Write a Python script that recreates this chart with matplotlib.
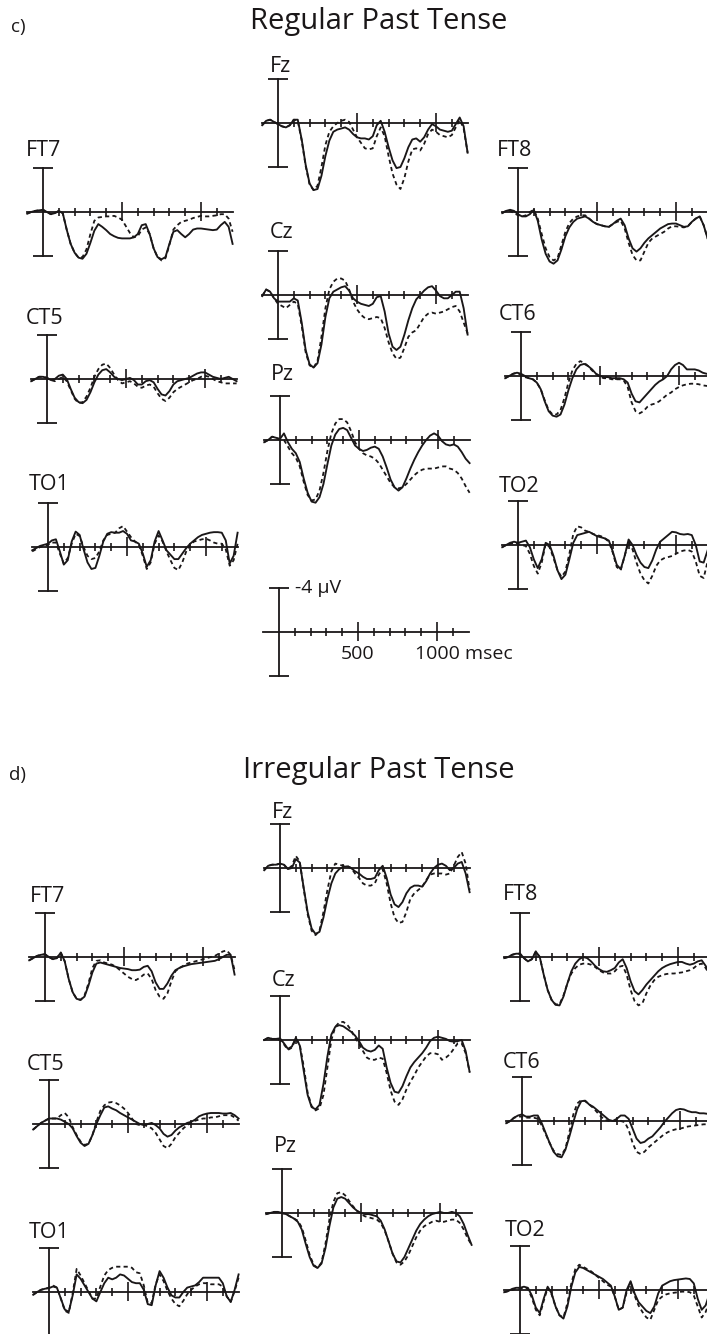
import numpy as np
import matplotlib
matplotlib.use("Agg")
import matplotlib.pyplot as plt

plt.rcParams['font.family'] = ['Open Sans', 'DejaVu Sans']

# ---------------- data (µV, negative plotted up) ----------------
times = list(range(-100, 1201, 25))  # ms sample times

tick_ms = [100, 200, 300, 400, 500, 600, 700, 800, 900, 1000, 1100]
major_ms = [500, 1000]

# ---- c) Regular past tense ----
reg_FT7_solid = [0.15, 0, -0.1, -0.15, -0.2, 0, 0.2, 0.1, -0.1,
                 0.1, 1.6, 2.9, 3.7, 4.15, 4.25, 3.8, 2.8, 1.7,
                 1.1, 1.35, 1.65, 2.0, 2.2, 2.35, 2.4, 2.4, 2.4,
                 2.3, 2.0, 1.2, 1.1, 2.0, 3.3, 4.1, 4.3, 4.1,
                 2.9, 1.8, 1.65, 2.0, 2.3, 2.0, 1.6, 1.5, 1.5,
                 1.55, 1.6, 1.65, 1.6, 1.2, 0.9, 1.35, 2.9]
reg_FT7_dash = [0.15, 0, -0.1, -0.15, -0.2, 0, 0.2, 0.1, -0.1,
                0.1, 1.6, 2.9, 3.7, 4.15, 4.1, 3.4, 2.0, 0.8,
                0.5, 0.45, 0.4, 0.4, 0.35, 0.5, 0.7, 1.3, 1.9,
                2.3, 2.2, 1.6, 1.4, 2.0, 3.3, 4.1, 4.4, 4.2,
                3.0, 1.6, 1.2, 0.9, 0.8, 0.7, 0.55, 0.45, 0.35,
                0.4, 0.4, 0.35, 0.3, 0.2, 0.2, 0.6, 1.8]

reg_Fz_solid = [0.2, -0.2, -0.3, -0.1, 0.1, 0.3, 0.4, 0.2, -0.3,
                -0.3, 1.5, 3.8, 5.5, 6.1, 6.0, 4.8, 3.0, 1.6,
                0.8, 0.6, 0.5, 0.4, 0.6, 1.0, 1.3, 1.4, 1.4,
                1.5, 1.2, 0.2, -0.2, 0.8, 2.2, 3.4, 4.1, 4.0,
                3.2, 2.2, 1.5, 1.4, 1.7, 1.3, 0.6, 0.1, 0.3,
                0.6, 0.7, 0.8, 0.7, 0.1, -0.5, 0.3, 2.7]
reg_Fz_dash = [0.2, -0.2, -0.3, -0.1, 0.1, 0.3, 0.4, 0.2, -0.3,
               -0.2, 1.6, 3.9, 5.6, 6.1, 5.7, 4.0, 2.0, 0.8,
               0.3, 0.0, -0.2, -0.3, -0.1, 0.6, 1.3, 1.8, 2.3,
               2.4, 2.3, 1.2, 0.4, 1.2, 3.0, 4.6, 5.6, 6.0,
               5.0, 3.5, 2.4, 2.3, 2.5, 1.9, 1.0, 0.6, 0.8,
               1.1, 1.2, 1.3, 1.1, 0.4, -0.3, 0.5, 2.7]

reg_Cz_solid = [0.1, -0.5, -0.3, 0.3, 0.6, 0.6, 0.6, 0.6, 0.3,
                0.5, 2.5, 5.0, 6.3, 6.6, 6.2, 4.5, 2.0, 0.3,
                -0.3, -0.5, -0.7, -0.8, -0.4, 0.3, 0.6, 0.8, 0.9,
                1.0, 0.8, 0.2, 0.1, 1.5, 3.5, 4.7, 5.0, 4.7,
                3.6, 2.3, 1.2, 0.4, 0.0, -0.4, -0.7, -0.8, -0.4,
                0.1, 0.3, 0.3, 0.0, -0.3, -0.3, 1.2, 3.6]
reg_Cz_dash = [0.1, -0.5, -0.3, 0.3, 0.8, 1.0, 1.2, 0.9, 0.6,
               0.8, 2.8, 5.2, 6.4, 6.6, 6.0, 3.8, 1.2, -0.5,
               -1.2, -1.5, -1.5, -1.3, -0.5, 0.6, 1.3, 1.8, 2.1,
               2.2, 2.1, 2.0, 2.1, 3.0, 4.3, 5.3, 5.8, 5.7,
               4.8, 3.8, 3.4, 3.2, 2.6, 2.0, 1.7, 1.6, 1.7,
               1.6, 1.5, 1.3, 1.1, 1.0, 1.5, 2.5, 3.5]

reg_Pz_solid = [0.2, 0.0, -0.3, -0.2, -0.1, -0.6, 0.2, 0.8, 1.2,
                2.0, 3.5, 4.8, 5.6, 5.7, 5.2, 4.0, 2.2, 0.5,
                -0.5, -1.0, -1.1, -0.9, -0.2, 0.5, 0.8, 1.0, 0.9,
                0.7, 0.6, 0.8, 1.5, 2.5, 3.6, 4.3, 4.6, 4.3,
                3.5, 2.6, 1.8, 1.1, 0.5, 0.0, -0.4, -0.6, -0.4,
                0.1, 0.4, 0.5, 0.4, 0.6, 1.1, 1.7, 2.1]
reg_Pz_dash = [0.2, 0.0, -0.3, -0.2, 0.0, 0.0, 0.6, 1.2, 1.6,
               2.4, 3.8, 5.0, 5.5, 5.4, 4.6, 3.0, 1.0, -0.6,
               -1.5, -1.9, -1.9, -1.6, -0.8, 0.2, 0.8, 1.2, 1.4,
               1.5, 1.7, 2.1, 2.7, 3.3, 3.9, 4.3, 4.4, 4.3,
               4.0, 3.6, 3.2, 2.9, 2.7, 2.6, 2.6, 2.6, 2.5,
               2.4, 2.4, 2.6, 2.7, 3.0, 3.5, 4.2, 4.8]

reg_CT5_solid = [0.2, 0.0, -0.2, -0.2, -0.1, 0.1, 0.0, -0.3, -0.4,
                 0.0, 0.9, 1.7, 2.1, 2.2, 1.9, 1.2, 0.3, -0.4,
                 -0.8, -0.9, -0.6, -0.2, 0.0, 0.1, 0.0, -0.1, 0.1,
                 0.5, 0.5, 0.2, 0.1, 0.3, 0.9, 1.4, 1.5, 1.1,
                 0.5, 0.2, 0.1, 0.0, -0.1, -0.3, -0.5, -0.6, -0.6,
                 -0.4, -0.2, -0.1, 0.0, -0.1, -0.2, 0.0, 0.2]
reg_CT5_dash = [0.2, 0.0, -0.2, -0.2, -0.1, 0.1, 0.2, 0.0, -0.2,
                0.2, 1.0, 1.8, 2.2, 2.1, 1.6, 0.8, -0.2, -0.9,
                -1.3, -1.4, -1.0, -0.4, 0.1, 0.4, 0.3, 0.2, 0.4,
                0.7, 0.8, 0.6, 0.5, 0.7, 1.3, 1.8, 2.0, 1.7,
                1.2, 0.9, 0.7, 0.5, 0.3, 0.1, 0.0, -0.2, -0.3,
                -0.2, 0.0, 0.2, 0.3, 0.4, 0.4, 0.4, 0.4]

reg_TO1_solid = [0.3, 0.1, -0.1, -0.2, -0.3, -0.6, -0.7, 0.4, 1.6,
                 1.2, -0.5, -1.4, -1.1, 0.2, 1.4, 2.0, 1.9, 0.8,
                 -0.5, -1.2, -1.35, -1.3, -1.3, -1.45, -1.2, -0.6, -0.5,
                 -0.3, 0.6, 1.8, 1.2, -0.5, -1.45, -0.6, 0.3, 0.7,
                 1.1, 1.1, 0.6, 0.1, -0.3, -0.6, -0.9, -1.1, -1.2,
                 -1.3, -1.35, -1.35, -1.3, -0.6, 1.5, 0.8, -1.3]
reg_TO1_dash = [0.4, 0.2, 0.0, -0.1, -0.2, -0.4, -0.4, 0.6, 1.5,
                1.0, -0.3, -1.2, -1.0, 0.0, 0.8, 1.1, 1.0, 0.4,
                -0.6, -1.1, -1.2, -1.3, -1.7, -1.9, -1.4, -0.9, -0.5,
                -0.2, 0.8, 2.0, 1.4, -0.3, -1.05, -0.5, 0.4, 1.2,
                1.9, 2.1, 1.4, 0.4, -0.2, -0.5, -0.6, -0.7, -0.75,
                -0.6, -0.4, -0.3, -0.3, 0.2, 1.7, 1.2, -0.3]

reg_FT8_solid = [0.1, -0.1, -0.2, -0.1, 0.2, 0.4, 0.4, 0.2, -0.2,
                 0.8, 2.5, 3.8, 4.5, 4.7, 4.4, 3.4, 2.2, 1.4,
                 0.9, 0.6, 0.5, 0.4, 0.6, 0.9, 1.1, 1.2, 1.3,
                 1.35, 1.1, 0.8, 0.6, 1.2, 2.4, 3.3, 3.6, 3.3,
                 2.8, 2.4, 2.1, 1.8, 1.5, 1.3, 1.1, 1.05, 1.05,
                 1.2, 1.35, 1.3, 0.9, 0.6, 0.4, 1.2, 2.4]
reg_FT8_dash = [0.1, -0.1, -0.1, 0.1, 0.3, 0.4, 0.3, 0.0, -0.2,
                0.6, 2.0, 3.3, 4.1, 4.4, 4.2, 3.0, 1.8, 1.0,
                0.6, 0.4, 0.3, 0.3, 0.6, 0.9, 1.1, 1.2, 1.3,
                1.35, 1.1, 0.9, 0.8, 1.5, 2.8, 3.9, 4.4, 4.4,
                3.6, 2.8, 2.4, 2.2, 2.0, 1.8, 1.5, 1.3, 1.3,
                1.35, 1.4, 1.3, 0.9, 0.6, 0.4, 1.2, 2.4]

reg_CT6_solid = [0.2, 0.0, -0.2, -0.3, -0.2, 0.0, 0.2, 0.3, 0.6,
                 1.2, 2.3, 3.2, 3.6, 3.7, 3.5, 2.6, 1.3, 0.2,
                 -0.6, -1.0, -1.1, -0.9, -0.6, -0.2, 0.0, 0.1, 0.1,
                 0.2, 0.2, 0.2, 0.3, 0.6, 1.6, 2.3, 2.4, 2.0,
                 1.6, 1.2, 0.8, 0.5, 0.3, 0.0, -0.6, -1.0, -1.2,
                 -1.0, -0.6, -0.6, -0.6, -0.5, -0.3, -0.2, -0.2]
reg_CT6_dash = [0.2, 0.0, -0.2, -0.3, -0.1, 0.1, 0.2, 0.3, 0.6,
                1.2, 2.2, 3.1, 3.5, 3.5, 3.1, 2.0, 0.6, -0.5,
                -1.1, -1.35, -1.2, -0.9, -0.5, -0.2, 0.1, 0.2, 0.2,
                0.3, 0.3, 0.3, 0.4, 1.0, 2.4, 3.2, 3.4, 3.2,
                2.8, 2.6, 2.5, 2.3, 2.0, 1.7, 1.5, 1.2, 1.0,
                0.85, 0.75, 0.7, 0.7, 0.75, 0.85, 0.9, 0.9]

reg_TO2_solid = [0.2, 0.0, -0.2, -0.3, -0.2, -0.3, -0.4, 0.2, 1.3,
                 2.1, 1.3, -0.2, 0.0, 1.0, 2.3, 3.1, 2.7, 1.3,
                 -0.2, -0.9, -1.0, -1.1, -1.2, -1.0, -0.8, -0.7, -0.6,
                 -0.4, 0.6, 1.8, 2.2, 1.0, -0.5, 0.0, 0.9, 1.6,
                 2.0, 2.1, 1.4, 0.4, -0.3, -0.6, -0.9, -1.2, -1.15,
                 -1.0, -0.95, -1.0, -0.9, 0.0, 1.5, 1.6, 0.5]
reg_TO2_dash = [0.2, 0.0, -0.1, -0.2, -0.1, 0.0, 0.1, 0.8, 1.9,
                2.6, 1.6, -0.1, 0.2, 1.2, 2.3, 2.9, 2.4, 0.8,
                -1.0, -1.7, -1.6, -1.3, -1.2, -1.0, -0.9, -0.8, -0.6,
                -0.3, 0.7, 2.0, 2.3, 1.0, -0.3, 0.4, 1.6, 2.6,
                3.2, 3.5, 2.8, 1.9, 1.4, 1.2, 1.1, 1.0, 0.8,
                0.6, 0.5, 0.45, 0.6, 1.5, 2.8, 3.0, 1.5]

# ---- d) Irregular past tense ----
irr_FT7_solid = [0.3, 0.1, -0.1, -0.2, -0.25, 0.0, 0.2, 0.1, -0.4,
                 0.4, 2.0, 3.2, 3.8, 3.9, 3.6, 2.6, 1.4, 0.6,
                 0.5, 0.6, 0.7, 0.8, 0.9, 1.0, 1.05, 1.1, 1.2,
                 1.2, 1.15, 0.9, 0.8, 1.3, 2.3, 2.9, 2.9, 2.4,
                 1.7, 1.2, 1.0, 0.85, 0.75, 0.65, 0.6, 0.55, 0.5,
                 0.45, 0.4, 0.35, 0.2, 0.0, -0.2, -0.2, 1.6]
irr_FT7_dash = [0.3, 0.1, -0.1, -0.2, -0.25, 0.0, 0.2, 0.1, -0.4,
                0.4, 2.0, 3.2, 3.8, 3.9, 3.5, 2.4, 1.0, 0.35,
                0.3, 0.5, 0.6, 0.7, 0.9, 1.2, 1.5, 1.8, 2.0,
                2.1, 1.9, 1.6, 1.5, 2.0, 3.0, 3.6, 3.8, 3.3,
                2.2, 1.3, 1.0, 0.8, 0.6, 0.5, 0.4, 0.3, 0.2,
                0.1, 0.0, -0.1, -0.3, -0.5, -0.6, -0.2, 1.2]

irr_Fz_solid = [0.2, -0.2, -0.3, -0.3, -0.4, -0.3, 0.1, 0.0, -0.8,
                -0.5, 1.8, 4.0, 5.5, 6.0, 5.8, 4.5, 2.8, 1.4,
                0.5, 0.1, -0.1, -0.15, 0.0, 0.3, 0.5, 0.8, 1.0,
                1.0, 0.9, 0.2, -0.2, 0.9, 2.4, 3.3, 3.55, 3.1,
                2.3, 1.8, 1.6, 1.6, 1.7, 1.2, 0.5, 0.0, -0.3,
                -0.4, -0.2, 0.2, 0.0, -0.4, -0.55, 0.5, 2.2]
irr_Fz_dash = [0.2, -0.2, -0.3, -0.3, -0.4, -0.3, 0.1, -0.2, -1.1,
               -0.6, 1.9, 4.2, 5.7, 6.1, 5.7, 4.0, 2.0, 0.3,
               -0.4, -0.3, -0.2, -0.2, 0.0, 0.5, 0.9, 1.4, 1.6,
               1.6, 1.4, 0.6, 0.1, 1.4, 3.2, 4.5, 5.0, 4.9,
               4.0, 2.8, 2.3, 2.0, 1.7, 1.1, 0.6, 0.5, 0.5,
               0.5, 0.6, 0.5, -0.2, -1.0, -1.45, -0.4, 2.0]

irr_Cz_solid = [0.0, -0.2, -0.1, -0.1, -0.15, 0.3, 0.8, 0.6, -0.2,
                0.5, 2.8, 5.0, 6.1, 6.3, 5.9, 4.0, 1.5, -0.5,
                -1.2, -1.35, -1.25, -1.0, -0.75, -0.4, 0.1, 0.7, 0.95,
                1.05, 0.9, 0.5, 0.8, 2.5, 3.9, 4.7, 4.8, 4.2,
                3.3, 2.5, 2.0, 1.6, 1.2, 0.7, 0.1, -0.2, -0.3,
                -0.2, -0.1, 0.1, 0.15, 0.1, 0.0, 1.0, 2.9]
irr_Cz_dash = [0.0, -0.2, -0.1, -0.1, 0.0, 0.4, 0.9, 0.7, -0.1,
               0.4, 2.4, 4.8, 6.0, 6.4, 6.2, 5.0, 2.5, 0.0,
               -1.2, -1.6, -1.65, -1.4, -0.9, -0.2, 0.3, 1.0, 1.6,
               1.8, 1.8, 1.6, 1.7, 3.0, 4.6, 5.6, 5.9, 5.4,
               4.5, 3.8, 3.2, 2.5, 2.0, 1.5, 1.2, 1.2, 1.3,
               1.8, 1.6, 1.3, 0.8, 0.3, 0.3, 1.2, 2.9]

irr_Pz_solid = [0.1, 0.0, -0.1, -0.1, 0.0, 0.1, 0.3, 0.5, 0.8,
                1.5, 2.8, 4.0, 4.8, 5.0, 4.6, 3.2, 1.2, -0.5,
                -1.3, -1.45, -1.3, -0.9, -0.5, -0.2, 0.0, 0.1, 0.1,
                0.2, 0.3, 0.7, 1.5, 2.6, 3.7, 4.4, 4.5, 4.0,
                3.2, 2.4, 1.6, 1.0, 0.6, 0.3, 0.1, 0.0, -0.1,
                0.0, 0.0, -0.1, 0.0, 0.3, 1.0, 2.0, 2.9]
irr_Pz_dash = [0.1, 0.0, -0.1, -0.1, 0.0, 0.1, 0.3, 0.5, 0.7,
               1.3, 2.5, 3.8, 4.7, 5.0, 4.5, 2.8, 0.6, -1.0,
               -1.8, -1.9, -1.6, -1.1, -0.6, -0.2, 0.1, 0.3, 0.4,
               0.5, 0.6, 0.9, 1.6, 2.6, 3.7, 4.5, 4.7, 4.4,
               3.8, 3.0, 2.2, 1.6, 1.2, 1.0, 0.8, 0.7, 0.8,
               0.8, 0.7, 0.6, 0.6, 0.9, 1.5, 2.3, 2.9]

irr_CT5_solid = [0.5, 0.2, -0.1, -0.3, -0.5, -0.5, -0.5, -0.4, -0.2,
                 0.0, 0.4, 1.1, 1.7, 2.0, 1.8, 1.0, 0.0, -0.8,
                 -1.5, -1.6, -1.4, -1.25, -1.0, -0.8, -0.6, -0.4, -0.2,
                 0.0, 0.1, 0.0, -0.1, 0.1, 0.4, 0.9, 1.15, 1.0,
                 0.6, 0.3, 0.1, -0.1, -0.2, -0.4, -0.7, -0.85, -0.95,
                 -1.0, -1.0, -1.0, -0.95, -0.95, -1.0, -0.8, -0.5]
irr_CT5_dash = [0.5, 0.2, -0.1, -0.3, -0.5, -0.5, -0.5, -0.8, -1.0,
                -0.6, 0.3, 1.0, 1.6, 1.9, 1.8, 1.0, -0.2, -1.2,
                -1.7, -1.95, -2.0, -1.9, -1.7, -1.4, -1.0, -0.5, 0.0,
                0.1, 0.1, 0.2, 0.4, 0.8, 1.4, 2.0, 2.2, 1.8,
                1.2, 0.8, 0.4, 0.1, -0.1, -0.3, -0.4, -0.5, -0.5,
                -0.6, -0.6, -0.7, -0.8, -0.8, -0.8, -0.6, -0.3]

irr_TO1_solid = [0.25, 0.0, -0.2, -0.3, -0.35, -0.5, -0.4, 0.6, 1.6,
                 1.8, 0.3, -1.6, -1.2, -0.6, 0.0, 0.6, 0.85, 0.0,
                 -0.8, -1.3, -1.15, -1.3, -1.6, -1.5, -1.2, -0.9, -0.8,
                 -0.8, -0.2, 1.1, 1.2, -0.6, -1.9, -1.3, -0.4, 0.3,
                 0.5, 0.5, 0.0, -0.4, -0.5, -0.6, -0.9, -1.3, -1.3,
                 -1.3, -1.3, -1.3, -0.8, 0.4, 0.9, -0.2, -1.6]
irr_TO1_dash = [0.25, 0.0, -0.2, -0.3, -0.4, -0.6, -0.4, 0.6, 1.7,
                1.9, 0.1, -2.1, -1.5, -0.8, -0.1, 0.6, 0.6, -0.5,
                -1.5, -2.0, -2.2, -2.3, -2.3, -2.3, -2.3, -2.2, -1.8,
                -1.7, -0.6, 1.0, 1.0, -0.7, -1.6, -1.0, -0.1, 0.6,
                1.1, 1.3, 0.8, 0.2, -0.2, -0.5, -0.7, -0.8, -0.8,
                -0.7, -0.7, -0.7, -0.5, 0.4, 0.9, -0.1, -1.3]

irr_FT8_solid = [0.1, 0.0, -0.2, -0.3, -0.3, 0.1, 0.4, 0.2, -0.5,
                 0.0, 1.6, 3.0, 3.9, 4.35, 4.4, 3.6, 2.4, 1.3,
                 0.6, 0.2, 0.0, 0.1, 0.4, 0.8, 1.1, 1.3, 1.35,
                 1.2, 1.0, 0.5, 0.2, 1.0, 2.2, 3.1, 3.4, 3.0,
                 2.5, 2.1, 1.7, 1.3, 1.0, 0.8, 0.65, 0.55, 0.45,
                 0.45, 0.6, 0.7, 0.6, 0.4, 0.3, 0.8, 1.5]
irr_FT8_dash = [0.1, 0.0, -0.2, -0.3, -0.3, 0.1, 0.4, 0.2, -0.5,
                0.0, 1.6, 3.0, 3.9, 4.3, 4.3, 3.5, 2.4, 1.5,
                1.0, 0.7, 0.6, 0.6, 0.7, 0.9, 1.2, 1.4, 1.5,
                1.5, 1.3, 0.9, 0.8, 1.6, 3.0, 4.0, 4.4, 4.2,
                3.3, 2.6, 2.1, 1.8, 1.65, 1.55, 1.5, 1.5, 1.45,
                1.4, 1.3, 1.2, 1.0, 0.7, 0.6, 1.0, 1.6]

irr_CT6_solid = [0.2, 0.0, -0.3, -0.5, -0.6, -0.4, -0.4, -0.5, -0.5,
                 0.2, 1.1, 2.0, 2.8, 3.2, 3.3, 2.6, 1.4, 0.1,
                 -1.1, -1.8, -1.85, -1.5, -1.3, -1.0, -0.7, -0.4, -0.1,
                 0.0, -0.2, -0.5, -0.5, -0.2, 0.7, 1.6, 2.0, 1.9,
                 1.6, 1.4, 1.0, 0.6, 0.1, -0.3, -0.7, -1.0, -1.1,
                 -1.05, -0.9, -0.8, -0.8, -0.7, -0.7, -0.65, -0.6]
irr_CT6_dash = [0.2, 0.0, -0.3, -0.4, -0.4, -0.3, -0.3, -0.3, -0.2,
                0.4, 1.2, 2.0, 2.7, 3.0, 3.1, 2.5, 1.0, -0.6,
                -1.6, -1.9, -1.8, -1.5, -1.2, -0.8, -0.4, -0.1, 0.0,
                0.0, 0.0, 0.0, 0.1, 0.8, 2.0, 2.8, 3.0, 2.8,
                2.4, 2.1, 1.8, 1.5, 1.2, 1.0, 0.85, 0.75, 0.7,
                0.6, 0.5, 0.45, 0.4, 0.35, 0.3, 0.3, 0.3]

irr_TO2_solid = [0.2, 0.1, -0.1, -0.2, -0.2, -0.3, -0.2, 0.5, 1.6,
                 2.1, 0.8, -0.3, 0.3, 1.5, 2.3, 2.6, 1.5, -0.3,
                 -1.6, -2.1, -2.0, -1.8, -1.6, -1.4, -1.2, -1.0, -0.7,
                 -0.4, 0.6, 1.8, 1.6, 0.0, -0.8, 0.3, 1.1, 1.5,
                 1.9, 2.1, 1.5, 0.3, -0.4, -0.6, -0.8, -0.9, -0.95,
                 -1.0, -1.05, -1.0, -0.6, 0.8, 1.8, 1.4, 0.3]
irr_TO2_dash = [0.2, 0.1, 0.0, -0.1, -0.1, -0.2, -0.1, 0.7, 1.8,
                2.3, 1.0, -0.2, 0.4, 1.5, 2.3, 2.5, 1.2, -0.6,
                -1.9, -2.3, -2.1, -1.9, -1.7, -1.4, -1.1, -0.8, -0.5,
                -0.3, 0.6, 1.8, 1.6, 0.2, -0.7, 0.5, 1.4, 2.0,
                2.5, 2.7, 1.8, 0.9, 0.6, 0.4, 0.3, 0.25, 0.2,
                0.15, 0.15, 0.2, 0.5, 1.5, 2.5, 2.0, 1.0]

# ---------------- layout ----------------
W, H = 707, 1334
PX_MS = 0.158      # pixels per ms
PX_UV = 11.0       # pixels per µV
T0, T1 = -150, 1250
V_TOP, V_BOT = -6.0, 8.0
INK = '#1a1718'

fig = plt.figure(figsize=(W / 100, H / 100), dpi=100)
fig.patch.set_facecolor('white')


def make_axes(x0, ya):
    left = x0 + T0 * PX_MS
    width = (T1 - T0) * PX_MS
    top = ya + V_TOP * PX_UV
    height = (V_BOT - V_TOP) * PX_UV
    ax = fig.add_axes([left / W, 1 - (top + height) / H, width / W, height / H])
    ax.set_xlim(T0, T1)
    ax.set_ylim(V_BOT, V_TOP)
    ax.axis('off')
    # time axis
    ax.plot([-100, 1200], [0, 0], color=INK, lw=1.3, clip_on=False)
    minor = [t for t in tick_ms if t not in major_ms]
    ax.vlines(minor, -0.4, 0.4, color=INK, lw=1.2, clip_on=False)
    ax.vlines(major_ms, -0.9, 0.8, color=INK, lw=1.2, clip_on=False)
    # amplitude bar
    ax.plot([0, 0], [-4, 4], color=INK, lw=1.3, clip_on=False)
    ax.hlines([-4, 4], -63, 63, color=INK, lw=1.3, clip_on=False)
    return ax


def panel(x0, ya, solid, dashed, label, lx, ly):
    ax = make_axes(x0, ya)
    assert len(solid) == len(times) and len(dashed) == len(times), label
    ax.plot(times, dashed, color=INK, lw=1.3, ls=(0, (2.3, 1.8)), clip_on=False)
    ax.plot(times, solid, color=INK, lw=1.35, clip_on=False)
    fig.text(lx / W, 1 - ly / H, label, fontsize=15.5, ha='left', va='center', color=INK)
    return ax


# c) Regular Past Tense
fig.text(11 / W, 1 - 27 / H, 'c)', fontsize=13.5, ha='left', va='center', color=INK)
fig.text(379 / W, 1 - 22 / H, 'Regular Past Tense', fontsize=21, ha='center', va='center', color=INK)
panel(43, 212, reg_FT7_solid, reg_FT7_dash, 'FT7', 26, 150)
panel(47, 379, reg_CT5_solid, reg_CT5_dash, 'CT5', 26, 318)
panel(48, 547, reg_TO1_solid, reg_TO1_dash, 'TO1', 29, 485)
panel(278, 123, reg_Fz_solid, reg_Fz_dash, 'Fz', 270, 67)
panel(278, 295, reg_Cz_solid, reg_Cz_dash, 'Cz', 270, 233)
panel(280, 440, reg_Pz_solid, reg_Pz_dash, 'Pz', 271, 374)
panel(518, 212, reg_FT8_solid, reg_FT8_dash, 'FT8', 497, 151)
panel(521, 376, reg_CT6_solid, reg_CT6_dash, 'CT6', 499, 315)
panel(518, 545, reg_TO2_solid, reg_TO2_dash, 'TO2', 499, 486)

# scale bar
sax = make_axes(279, 632)
sax.text(100, -4, '-4 µV', fontsize=14, ha='left', va='center', color=INK)
sax.text(500, 2.0, '500', fontsize=14, ha='center', va='center', color=INK)
sax.text(860, 2.0, '1000 msec', fontsize=14, ha='left', va='center', color=INK)

# d) Irregular Past Tense
fig.text(9 / W, 1 - 775 / H, 'd)', fontsize=13.5, ha='left', va='center', color=INK)
fig.text(379 / W, 1 - 770 / H, 'Irregular Past Tense', fontsize=21, ha='center', va='center', color=INK)
panel(45, 957, irr_FT7_solid, irr_FT7_dash, 'FT7', 30, 896)
panel(49, 1124, irr_CT5_solid, irr_CT5_dash, 'CT5', 27, 1065)
panel(49, 1292, irr_TO1_solid, irr_TO1_dash, 'TO1', 29, 1233)
panel(280, 868, irr_Fz_solid, irr_Fz_dash, 'Fz', 272, 812)
panel(280, 1040, irr_Cz_solid, irr_Cz_dash, 'Cz', 272, 980)
panel(282, 1213, irr_Pz_solid, irr_Pz_dash, 'Pz', 274, 1146)
panel(520, 957, irr_FT8_solid, irr_FT8_dash, 'FT8', 503, 895)
panel(522, 1121, irr_CT6_solid, irr_CT6_dash, 'CT6', 503, 1063)
panel(520, 1290, irr_TO2_solid, irr_TO2_dash, 'TO2', 505, 1230)

fig.savefig('out.png', dpi=100, facecolor='white')
